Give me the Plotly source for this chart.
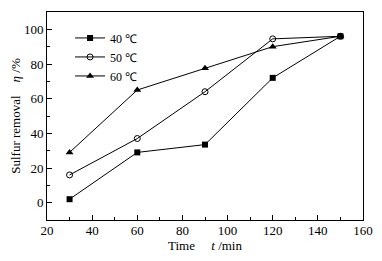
import plotly.graph_objects as go

time_min = [30, 60, 90, 120, 150]
removal_40 = [2, 29, 33.5, 72, 96]
removal_50 = [16, 37, 64, 94.5, 96]
removal_60 = [29, 65, 77.5, 90, 96]
series_names = ["40 ℃", "50 ℃", "60 ℃"]

fig = go.Figure()
styles = [
    dict(symbol="square", color="black", size=6),
    dict(symbol="circle-open", color="black", size=6, line=dict(width=1)),
    dict(symbol="triangle-up", color="black", size=7),
]
for name, vals, mk in zip(series_names, [removal_40, removal_50, removal_60], styles):
    fig.add_trace(go.Scatter(x=time_min, y=vals, mode="lines+markers", name=name,
                             line=dict(color="black", width=1), marker=mk))

font = dict(family="Liberation Serif, Times New Roman, serif", size=13, color="black")
fig.update_layout(
    width=366, height=245,
    margin=dict(l=39, r=11, t=4, b=33, autoexpand=False),
    paper_bgcolor="white", plot_bgcolor="white",
    font=font,
    showlegend=True,
    legend=dict(x=0.073, y=0.945, xanchor="left", yanchor="top", bgcolor="rgba(0,0,0,0)",
                font=dict(family=font["family"], size=12, color="black"),
                itemwidth=30, tracegroupgap=0),
)
fig.update_xaxes(range=[20, 160], tickvals=[20, 40, 60, 80, 100, 120, 140, 160],
                 ticks="inside", ticklen=5, tickcolor="black", automargin=False,
                 tickfont=font, ticklabelstandoff=-2,
                 minor=dict(dtick=10, ticks="inside", ticklen=3, tickcolor="black"),
                 showline=True, linecolor="black", linewidth=1, mirror=True,
                 showgrid=False, zeroline=False,
                 title=dict(text="Time     <i>t</i> /min", standoff=13, font=font))
fig.update_yaxes(range=[-10, 110], tickvals=[0, 20, 40, 60, 80, 100],
                 ticks="inside", ticklen=5, tickcolor="black", automargin=False,
                 tickfont=font,
                 minor=dict(dtick=10, ticks="inside", ticklen=3, tickcolor="black"),
                 showline=True, linecolor="black", linewidth=1, mirror=True,
                 showgrid=False, zeroline=False,
                 title=dict(text="Sulfur removal    <i>η</i> /%", standoff=3, font=font))
fig.write_html("out.html")
